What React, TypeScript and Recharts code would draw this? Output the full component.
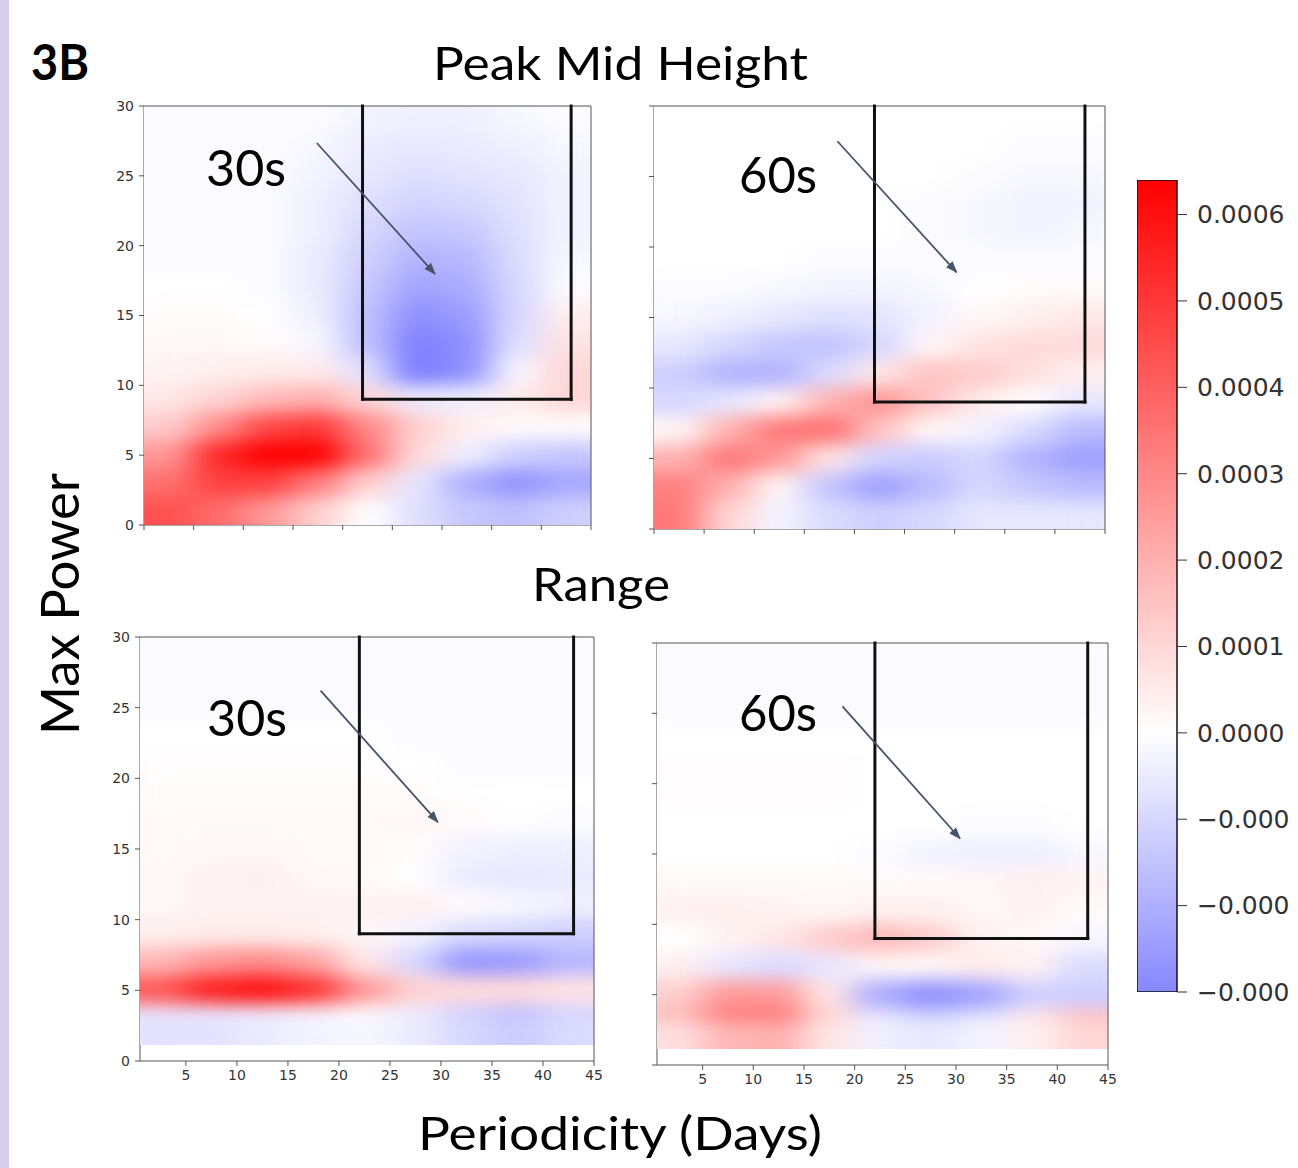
import React from "react";
import { ScatterChart, Scatter, XAxis, YAxis, ReferenceLine, BarChart, Bar } from "recharts";

// grid cell centres: periodicity (days) and max power
const COL_X = [2.5, 7.5, 12.5, 17.5, 22.5, 27.5, 32.5, 37.5, 42.5];
const ROWS_TOP = [29, 27, 25, 23, 21, 19, 17, 15, 13, 11, 9, 7, 5, 3, 1];
const ROWS_BOTTOM = [29, 27, 25, 23, 21, 19, 17, 15, 13, 11, 9, 7, 5, 3, 2.2];

// values, in units of 1e-4
const PEAK_30S = [
  [-0.1, -0.1, -0.1, -0.1, -0.3, -0.4, -0.4, -0.2, -0.1],
  [-0.1, -0.1, -0.1, -0.2, -0.5, -0.6, -0.5, -0.4, -0.2],
  [-0.1, -0.1, -0.1, -0.3, -0.6, -0.8, -0.7, -0.6, -0.3],
  [-0.1, -0.1, -0.1, -0.4, -0.8, -1.1, -1.0, -0.7, -0.3],
  [-0.1, -0.1, -0.1, -0.4, -1.0, -1.5, -1.4, -0.8, -0.3],
  [-0.1, -0.1, -0.1, -0.5, -1.2, -1.9, -1.8, -0.9, -0.2],
  [0, 0, -0.1, -0.5, -1.4, -2.3, -2.1, -1.0, -0.1],
  [0.1, 0.1, 0, -0.4, -1.6, -2.8, -2.5, -1.0, 0.4],
  [0.2, 0.2, 0.1, -0.2, -1.6, -3.2, -2.8, -0.8, 0.7],
  [0.3, 0.4, 0.5, 0.5, -0.8, -3.3, -2.8, -0.2, 1.0],
  [0.6, 1.1, 1.7, 2.0, 1.0, -0.5, -0.4, 0.5, 1.0],
  [1.3, 2.9, 4.6, 5.0, 3.0, 1.2, 0.4, 0.1, 0.1],
  [2.6, 5.4, 6.4, 6.4, 3.6, 0.9, -0.4, -1.2, -1.4],
  [3.6, 4.8, 4.8, 3.3, 1.2, -0.6, -2.0, -2.7, -2.2],
  [4.4, 3.7, 2.6, 1.2, 0.0, -0.8, -1.4, -1.6, -1.2],
];

const PEAK_60S = [
  [0, 0, 0, 0, 0, 0, 0, 0, 0],
  [0, 0, 0, 0, 0, 0, 0, -0.1, -0.1],
  [0, 0, 0, 0, 0, 0, -0.1, -0.2, -0.2],
  [0, 0, 0, 0, 0, -0.1, -0.2, -0.3, -0.3],
  [0, 0, 0, 0, 0, -0.1, -0.2, -0.3, -0.2],
  [0, 0, 0, -0.1, -0.1, -0.1, -0.1, -0.1, -0.1],
  [-0.1, -0.1, -0.2, -0.3, -0.3, -0.2, 0, 0.1, 0.1],
  [-0.2, -0.4, -0.6, -0.8, -0.7, -0.3, 0.2, 0.4, 0.6],
  [-0.6, -1.0, -1.4, -1.5, -1.0, 0.2, 0.7, 0.9, 0.9],
  [-1.2, -1.9, -1.9, -0.9, 0.6, 1.5, 1.3, 0.8, 0.4],
  [-1.0, -0.6, 0.3, 1.9, 2.7, 1.5, 0.5, 0, -0.6],
  [0.2, 1.9, 3.4, 3.6, 1.5, 0.2, -0.3, -0.9, -1.7],
  [1.9, 3.4, 2.6, 0.6, -1.1, -1.3, -1.0, -1.9, -2.4],
  [3.2, 2.0, 0.2, -1.5, -2.4, -1.7, -1.0, -1.4, -1.7],
  [3.4, 1.0, -0.3, -0.9, -1.2, -1.0, -0.6, -0.6, -0.6],
];

const RANGE_30S = [
  [-0.1, -0.1, -0.1, -0.1, -0.1, -0.1, -0.1, -0.1, -0.1],
  [-0.1, -0.1, -0.1, -0.1, -0.1, -0.1, -0.1, -0.1, -0.1],
  [-0.1, -0.1, -0.1, -0.1, -0.1, -0.1, -0.1, -0.1, -0.1],
  [0, 0, 0, 0, 0, -0.1, -0.1, -0.1, -0.1],
  [0.05, 0.05, 0.05, 0.05, 0.05, 0, -0.1, -0.1, -0.1],
  [0.1, 0.1, 0.1, 0.1, 0.1, 0.1, 0, 0, 0],
  [0.15, 0.15, 0.15, 0.15, 0.15, 0.2, 0.15, 0, -0.1],
  [0.15, 0.2, 0.2, 0.15, 0.15, 0.1, -0.3, -0.4, -0.4],
  [0.2, 0.3, 0.35, 0.2, 0.15, 0, -0.5, -0.6, -0.5],
  [0.2, 0.3, 0.3, 0.3, 0.3, 0.35, 0.1, -0.2, -0.4],
  [0.4, 0.5, 0.5, 0.4, 0.2, -0.3, -0.9, -1.0, -1.2],
  [1.8, 2.6, 2.9, 2.3, 0.6, -1.0, -2.6, -2.5, -1.8],
  [4.2, 5.6, 6.0, 5.2, 2.6, 1.1, 0.9, 0.9, 0.7],
  [-0.6, -0.6, -0.5, -0.3, 0, -0.5, -1.2, -1.7, -1.1],
  [-0.7, -0.7, -0.5, -0.3, -0.2, -0.5, -1.0, -1.3, -0.9],
];

const RANGE_60S = [
  [-0.1, -0.1, -0.1, -0.1, -0.1, -0.1, -0.1, -0.1, -0.1],
  [-0.1, -0.1, -0.1, -0.1, -0.1, -0.1, -0.1, -0.1, -0.1],
  [-0.1, -0.1, -0.1, -0.1, -0.1, -0.1, -0.1, -0.1, -0.1],
  [0, 0, 0, 0, 0, 0, 0, 0, 0],
  [0.05, 0.05, 0.05, 0.05, 0, 0, 0, 0, 0],
  [0.05, 0.05, 0.05, 0.05, 0, 0, 0, 0, 0],
  [0, 0, 0, 0, 0, 0, -0.1, -0.1, 0],
  [0, 0, 0, 0, -0.1, -0.3, -0.4, -0.4, -0.2],
  [0.15, 0.15, 0.15, 0.15, 0.15, 0.15, 0.2, 0.35, 0.3],
  [0.35, 0.4, 0.3, 0.2, 0.35, 0.35, 0.2, 0.3, 0.15],
  [0, 0.3, 0.6, 1.3, 1.8, 1.3, 0.3, 0.2, -0.2],
  [0.4, -0.6, -0.9, -0.6, 0.2, 0.2, 0.5, 0.3, -0.9],
  [1.2, 2.5, 2.5, 0.6, -2.1, -2.8, -2.3, -1.2, -1.2],
  [1.9, 3.7, 3.8, 1.2, -0.6, -1.2, -0.8, 0.6, 1.7],
  [0.8, 1.8, 2.0, 0.6, -0.4, -0.6, -0.3, 0.4, 1.0],
];

const Y_TICKS = [0, 5, 10, 15, 20, 25, 30];
const X_TICKS_TOP = [0, 5, 10, 15, 20, 25, 30, 35, 40, 45];
const X_TICKS_BOTTOM = [5, 10, 15, 20, 25, 30, 35, 40, 45];

const CBAR_TICKS = [0.0006, 0.0005, 0.0004, 0.0003, 0.0002, 0.0001, 0, -0.0001, -0.0002, -0.0003];
const CBAR_RANGE = [-0.0003, 0.00064];

// highlighted window (days 22-43, power above 9) and arrow annotations
const BOX = { x1: 22, x2: 43, y1: 9, y2: 30 };
const ARROWS = [
  [17.4, 27.35, 29.3, 17.97],
  [18.3, 27.5, 30.2, 18.2],
  [18.2, 26.2, 29.7, 16.9],
  [18.8, 25.5, 30.4, 16.1],
];

const VMAX = 6.4;
const ARROW_COLOR = "#44546a";
const FRAME_COLOR = "#555";
const TICK_FONT = { fontSize: 14, fill: "#333", fontFamily: "DejaVu Sans" };

function bwr(v: number): string {
  const t = Math.max(-1, Math.min(1, v / VMAX));
  if (t >= 0) {
    const c = Math.round(255 * (1 - t));
    return `rgb(255,${c},${c})`;
  }
  const c = Math.round(255 * (1 + t));
  return `rgb(${c},${c},255)`;
}

const PANELS = [
  { key: "p1", grid: PEAK_30S, rows: ROWS_TOP, left: 144, top: 106, w: 447, h: 419, xDomain: [0, 45], xTicks: X_TICKS_TOP, xLabels: false, yLabels: true },
  { key: "p2", grid: PEAK_60S, rows: ROWS_TOP, left: 654, top: 106, w: 451, h: 423, xDomain: [0, 45], xTicks: X_TICKS_TOP, xLabels: false, yLabels: false },
  { key: "p3", grid: RANGE_30S, rows: ROWS_BOTTOM, left: 140, top: 637, w: 454, h: 424, xDomain: [0.5, 45], xTicks: X_TICKS_BOTTOM, xLabels: true, yLabels: true },
  { key: "p4", grid: RANGE_60S, rows: ROWS_BOTTOM, left: 657, top: 643, w: 451, h: 422, xDomain: [0.5, 45], xTicks: X_TICKS_BOTTOM, xLabels: true, yLabels: false },
];

function HeatPanel({ panel, arrow }: { panel: (typeof PANELS)[number]; arrow: number[] }) {
  const { grid, rows, left, top, w, h, xDomain, xTicks, xLabels, yLabels } = panel;
  const data = rows.flatMap((y, r) => COL_X.map((x, c) => ({ x, y, v: grid[r][c] })));
  const cw = (w * 5) / (xDomain[1] - xDomain[0]) + 1;
  const ch = (h * 2) / 30 + 1;
  const blank = () => "";

  return (
    <div style={{ position: "absolute", left: left - 50, top: top - 10 }}>
      <ScatterChart width={w + 60} height={h + 40} margin={{ top: 10, right: 10, bottom: 0, left: 0 }}>
        <XAxis
          type="number"
          dataKey="x"
          domain={xDomain}
          ticks={xTicks}
          interval={0}
          allowDataOverflow
          height={30}
          tickSize={5}
          tickMargin={4}
          stroke={FRAME_COLOR}
          tick={TICK_FONT}
          tickFormatter={xLabels ? undefined : blank}
        />
        <YAxis
          type="number"
          dataKey="y"
          domain={[0, 30]}
          ticks={Y_TICKS}
          interval={0}
          allowDataOverflow
          width={50}
          tickSize={5}
          tickMargin={5}
          stroke={FRAME_COLOR}
          tick={TICK_FONT}
          tickFormatter={yLabels ? undefined : blank}
        />
        <Scatter
          className="heat"
          data={data}
          isAnimationActive={false}
          shape={(p: any) => (
            <rect x={p.cx - cw / 2} y={p.cy - ch / 2} width={cw} height={ch} fill={bwr(p.payload.v)} />
          )}
        />
        <ReferenceLine y={30} stroke={FRAME_COLOR} strokeWidth={1} zIndex={900} />
        <ReferenceLine x={45} stroke={FRAME_COLOR} strokeWidth={1} zIndex={900} />
        <ReferenceLine
          segment={[{ x: BOX.x1, y: BOX.y2 }, { x: BOX.x1, y: BOX.y1 }]}
          stroke="#111"
          strokeWidth={3}
          strokeLinecap="square"
          zIndex={1000}
        />
        <ReferenceLine
          segment={[{ x: BOX.x1, y: BOX.y1 }, { x: BOX.x2, y: BOX.y1 }]}
          stroke="#111"
          strokeWidth={3}
          strokeLinecap="square"
          zIndex={1000}
        />
        <ReferenceLine
          segment={[{ x: BOX.x2, y: BOX.y1 }, { x: BOX.x2, y: BOX.y2 }]}
          stroke="#111"
          strokeWidth={3}
          strokeLinecap="square"
          zIndex={1000}
        />
        <ReferenceLine
          segment={[{ x: arrow[0], y: arrow[1] }, { x: arrow[2], y: arrow[3] }]}
          zIndex={1000}
          shape={(p: any) => (
            <line x1={p.x1} y1={p.y1} x2={p.x2} y2={p.y2} stroke={ARROW_COLOR} strokeWidth={1.8} markerEnd="url(#arrowHead)" />
          )}
        />
      </ScatterChart>
    </div>
  );
}

function ColorBar() {
  const data = [{ name: "scale", range: CBAR_RANGE }];
  const fmt = (v: number) => (v >= 0 ? v.toFixed(4) : "\u22120.000");
  return (
    <div style={{ position: "absolute", left: 1137, top: 175 }}>
      <BarChart width={161} height={862} data={data} margin={{ top: 5, right: 0, bottom: 45, left: 0 }} barCategoryGap={0}>
        <XAxis dataKey="name" hide />
        <YAxis
          orientation="right"
          type="number"
          domain={CBAR_RANGE}
          ticks={CBAR_TICKS}
          interval={0}
          allowDataOverflow
          width={121}
          axisLine={false}
          tickSize={10}
          tickMargin={10}
          stroke="#333"
          tickFormatter={fmt}
          tick={{ fontSize: 25, fill: "#333", fontFamily: "DejaVu Sans" }}
        />
        <Bar dataKey="range" fill="url(#cbarGrad)" stroke="#111" strokeWidth={1.5} isAnimationActive={false} />
      </BarChart>
    </div>
  );
}

export default function App() {
  return (
    <div
      style={{
        position: "absolute",
        left: 0,
        top: 0,
        width: 1298,
        height: 1168,
        background: "#fff",
        overflow: "hidden",
      }}
    >
      <svg width={0} height={0} style={{ position: "absolute" }}>
        <defs>
          <filter id="heatBlur" x="0" y="0" width="1" height="1" colorInterpolationFilters="sRGB">
            <feGaussianBlur stdDeviation="17 9" />
            <feComponentTransfer>
              <feFuncA type="linear" slope="0" intercept="1" />
            </feComponentTransfer>
          </filter>
          <marker id="arrowHead" markerWidth="12" markerHeight="9" refX="11" refY="4.5" orient="auto" markerUnits="userSpaceOnUse">
            <path d="M0,0 L12,4.5 L0,9 z" fill={ARROW_COLOR} />
          </marker>
          <linearGradient id="cbarGrad" x1="0" y1="0" x2="0" y2="1">
            <stop offset="0" stopColor={bwr(6.4)} />
            <stop offset="0.681" stopColor="#fff" />
            <stop offset="1" stopColor={bwr(-3.0)} />
          </linearGradient>
        </defs>
      </svg>
      <style>{`.recharts-scatter.heat { filter: url(#heatBlur); }`}</style>

      <div style={{ position: "absolute", left: 0, top: 0, width: 9, height: 1168, background: "#d7cdee" }} />

      {PANELS.map((p, i) => (
        <HeatPanel key={p.key} panel={p} arrow={ARROWS[i]} />
      ))}
      <ColorBar />

      <svg width={1298} height={1168} style={{ position: "absolute", left: 0, top: 0, pointerEvents: "none" }}>
        <g fontFamily="Lato" fill="#000">
          <text x={31} y={80} fontSize={49} fontWeight="bold" textLength={58} lengthAdjust="spacingAndGlyphs">3B</text>
          <text x={433} y={80} fontSize={47} textLength={375} lengthAdjust="spacingAndGlyphs">Peak Mid Height</text>
          <text x={532} y={601} fontSize={47} textLength={138} lengthAdjust="spacingAndGlyphs">Range</text>
          <text x={418} y={1150} fontSize={47} textLength={404} lengthAdjust="spacingAndGlyphs">Periodicity (Days)</text>
          <text transform="rotate(-90)" x={-735} y={79} fontSize={52} textLength={262} lengthAdjust="spacingAndGlyphs">Max Power</text>
          <text x={206} y={186} fontSize={50} textLength={80} lengthAdjust="spacingAndGlyphs">30s</text>
          <text x={739} y={193} fontSize={50} textLength={78} lengthAdjust="spacingAndGlyphs">60s</text>
          <text x={207} y={736} fontSize={50} textLength={80} lengthAdjust="spacingAndGlyphs">30s</text>
          <text x={739} y={731} fontSize={50} textLength={78} lengthAdjust="spacingAndGlyphs">60s</text>
        </g>
      </svg>
    </div>
  );
}
